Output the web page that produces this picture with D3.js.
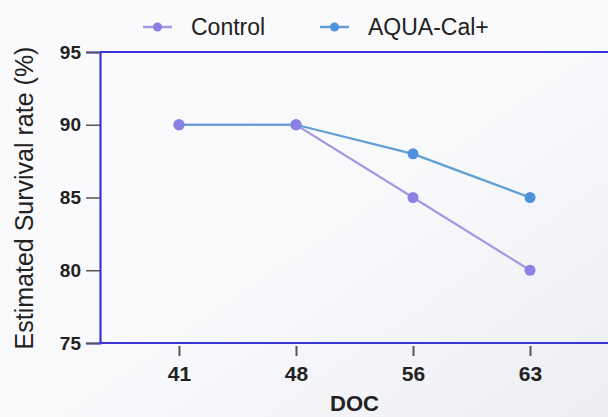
<!DOCTYPE html>
<html><head><meta charset="utf-8">
<script src="https://cdn.jsdelivr.net/npm/d3@7"></script>
<style>html,body{margin:0;padding:0;background:#fff;}svg{display:block;font-family:"Liberation Sans",Arial,sans-serif;}</style>
</head><body>
<svg id="c" width="608" height="417"></svg>
<script>
const categories = ["41", "48", "56", "63"];
const controlValues = [90, 90, 85, 80];
const aquaValues = [90, 90, 88, 85];
const yTicks = [75, 80, 85, 90, 95];
const seriesNames = ["Control", "AQUA-Cal+"];

const svg = d3.select("#c");
const defs = svg.append("defs");
const g1 = defs.append("linearGradient").attr("id","bg").attr("x1","0").attr("y1","0").attr("x2","1").attr("y2","1");
g1.append("stop").attr("offset","0").attr("stop-color","#fbfbfc");
g1.append("stop").attr("offset","0.55").attr("stop-color","#f8f9fb");
g1.append("stop").attr("offset","1").attr("stop-color","#eceef3");
svg.append("rect").attr("width",608).attr("height",417).attr("fill","url(#bg)");

const mLeft = 100, mRight = 609, mTop = 52, mBottom = 343;
const x = d3.scalePoint().domain(categories).range([mLeft, mRight]).padding(0.675);
const y = d3.scaleLinear().domain([75, 95]).range([mBottom, mTop]);
const axisColor = "#3b35d8";

// frame top line
svg.append("line").attr("x1",mLeft).attr("x2",608).attr("y1",y(95)).attr("y2",y(95))
  .attr("stroke",axisColor).attr("stroke-width",2.2);

const yAxis = svg.append("g").attr("transform",`translate(${mLeft},0)`)
  .call(d3.axisLeft(y).tickValues(yTicks).tickSize(14).tickPadding(5));
yAxis.select(".domain").attr("stroke",axisColor).attr("stroke-width",2.2);
yAxis.selectAll(".tick line").attr("stroke","#555").attr("stroke-width",1.5);
yAxis.selectAll("text").attr("fill","#222").attr("font-size",19).attr("font-weight","bold");

const xAxis = svg.append("g").attr("transform",`translate(0,${mBottom})`)
  .call(d3.axisBottom(x).tickSize(0).tickPadding(23));
xAxis.select(".domain").remove();
svg.append("line").attr("x1",mLeft-1).attr("x2",608).attr("y1",mBottom).attr("y2",mBottom)
  .attr("stroke",axisColor).attr("stroke-width",2.2);
xAxis.selectAll(".tick").append("line").attr("y1",3).attr("y2",13).attr("stroke","#555").attr("stroke-width",2);
xAxis.selectAll("text").attr("fill","#222").attr("font-size",21).attr("font-weight","bold");

svg.append("text").attr("y",411).attr("text-anchor","middle")
  .attr("x",(x("48")+x("56"))/2).attr("font-size",22).attr("font-weight","bold").attr("fill","#222").text("DOC");
svg.append("text").attr("transform",`translate(33,198) rotate(-90)`).attr("text-anchor","middle")
  .attr("font-size",25).attr("fill","#222").attr("font-weight","500").text("Estimated Survival rate (%)");

const series = [
  {name: seriesNames[0], values: controlValues, line:"#a399e2", dot:"#8d80e4"},
  {name: seriesNames[1], values: aquaValues, line:"#5f9fd6", dot:"#4f91da"}
];
const line = d3.line().x((d,i)=>x(categories[i])).y(d=>y(d));
series.forEach(s=>{
  svg.append("path").attr("d",line(s.values)).attr("fill","none").attr("stroke",s.line).attr("stroke-width",2.2);
});
series.slice().reverse().forEach(s=>{
  svg.selectAll(null).data(s.values).enter().append("circle")
    .attr("cx",(d,i)=>x(categories[i])).attr("cy",d=>y(d)).attr("r",5.5).attr("fill",s.dot);
});

// legend
const legX = [143, 320];
series.forEach((s,i)=>{
  const gx = legX[i];
  svg.append("line").attr("x1",gx).attr("x2",gx+29).attr("y1",27).attr("y2",27).attr("stroke",s.line).attr("stroke-width",2.5);
  svg.append("circle").attr("cx",gx+14.5).attr("cy",27).attr("r",4.5).attr("fill",s.dot);
  svg.append("text").attr("x",gx+48).attr("y",35).attr("font-size",23).attr("fill","#222").text(s.name);
});
</script>
</body></html>
